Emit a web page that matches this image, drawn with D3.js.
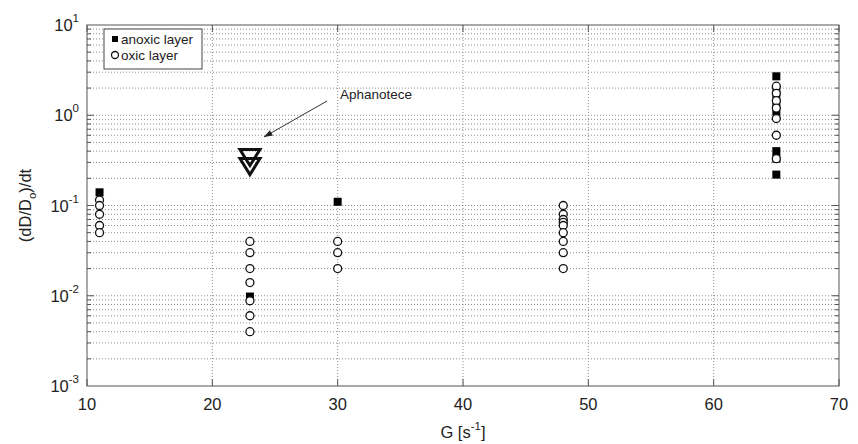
<!DOCTYPE html>
<html><head><meta charset="utf-8">
<script src="https://cdn.jsdelivr.net/npm/d3@7"></script>
<style>body{margin:0;background:#fff}svg{display:block;font-family:"Liberation Sans",Arial,sans-serif}</style>
</head><body><svg id="c" width="858" height="444"></svg>
<script>
const xTicks = [10, 20, 30, 40, 50, 60, 70];
const yExponents = [-3, -2, -1, 0, 1];
const anoxicG = [11, 23, 30, 65, 65, 65, 65, 65, 65, 65, 65];
const anoxicRate = [0.14, 0.0098, 0.11, 2.7, 1.9, 1.55, 1.3, 1.1, 0.4, 0.33, 0.22];
const oxicG = [11, 11, 11, 11, 11, 23, 23, 23, 23, 23, 23, 23, 30, 30, 30, 48, 48, 48, 48, 48, 48, 48, 48, 48, 65, 65, 65, 65, 65, 65, 65];
const oxicRate = [0.115, 0.1, 0.08, 0.06, 0.05, 0.04, 0.03, 0.02, 0.014, 0.0088, 0.006, 0.004, 0.04, 0.03, 0.02, 0.1, 0.08, 0.07, 0.065, 0.06, 0.05, 0.04, 0.03, 0.02, 2.1, 1.75, 1.45, 1.2, 0.92, 0.6, 0.33];
const aphG = [23, 23];
const aphRate = [0.34, 0.27];
const legendLabels = ["anoxic layer", "oxic layer"];
const annotation = "Aphanotece";

const svg = d3.select("#c");
const L = 87, R = 839, T = 25, B = 386;
const x = d3.scaleLinear().domain([10, 70]).range([L, R]);
const y = d3.scaleLog().domain([1e-3, 1e1]).range([B, T]);
const ink = "#222", axisC = "#555", gridC = "#8f8f8f";

// grid
const minor = [];
for (let e = -3; e < 1; e++) for (let m = 1; m <= 9; m++) { const v = m * Math.pow(10, e); if (v > 1e-3) minor.push(v); }
const g = svg.append("g");
g.selectAll("line.h").data(minor).join("line")
  .attr("x1", L).attr("x2", R).attr("y1", d => y(d)).attr("y2", d => y(d))
  .attr("stroke", gridC).attr("stroke-width", 1).attr("stroke-dasharray", "1,2");
g.selectAll("line.v").data(xTicks.slice(1, -1)).join("line")
  .attr("x1", d => x(d)).attr("x2", d => x(d)).attr("y1", T).attr("y2", B)
  .attr("stroke", gridC).attr("stroke-width", 1).attr("stroke-dasharray", "1,2");

// axes box + ticks (inside)
svg.append("rect").attr("x", L).attr("y", T).attr("width", R - L).attr("height", B - T)
  .attr("fill", "none").attr("stroke", axisC).attr("stroke-width", 1);
const tk = svg.append("g").attr("stroke", axisC).attr("stroke-width", 1);
xTicks.forEach(t => {
  tk.append("line").attr("x1", x(t)).attr("x2", x(t)).attr("y1", B).attr("y2", B - 7);
  tk.append("line").attr("x1", x(t)).attr("x2", x(t)).attr("y1", T).attr("y2", T + 7);
});
minor.forEach(v => {
  const len = Math.abs(Math.log10(v) - Math.round(Math.log10(v))) < 1e-9 ? 7 : 4;
  tk.append("line").attr("x1", L).attr("x2", L + len).attr("y1", y(v)).attr("y2", y(v));
  tk.append("line").attr("x1", R).attr("x2", R - len).attr("y1", y(v)).attr("y2", y(v));
});

// x labels
svg.selectAll("text.xt").data(xTicks).join("text")
  .attr("x", d => x(d)).attr("y", B + 24).attr("text-anchor", "middle")
  .attr("font-size", 16.5).attr("fill", ink).text(d => d);
// y labels
yExponents.forEach(e => {
  const t = svg.append("text").attr("x", L - 8).attr("y", y(Math.pow(10, e)) + 6)
    .attr("text-anchor", "end").attr("font-size", 16.5).attr("fill", ink);
  t.append("tspan").text("10");
  t.append("tspan").attr("dy", -9).attr("font-size", 11.5).text(e);
});

// axis titles
const xt = svg.append("text").attr("x", (L + R) / 2).attr("y", 438).attr("text-anchor", "middle")
  .attr("font-size", 16.5).attr("fill", ink);
xt.append("tspan").text("G [s");
xt.append("tspan").attr("dy", -8).attr("font-size", 11.5).text("-1");
xt.append("tspan").attr("dy", 8).text("]");
const yt = svg.append("text").attr("transform", `translate(31,${(T + B) / 2}) rotate(-90)`)
  .attr("text-anchor", "middle").attr("font-size", 16.5).attr("fill", ink);
yt.append("tspan").text("(dD/D");
yt.append("tspan").attr("dy", 5).attr("font-size", 11.5).text("o");
yt.append("tspan").attr("dy", -5).text(")/dt");

// data
const sq = 8;
svg.append("g").selectAll("rect").data(anoxicG.map((g, i) => [g, anoxicRate[i]])).join("rect")
  .attr("x", d => x(d[0]) - sq / 2).attr("y", d => y(d[1]) - sq / 2)
  .attr("width", sq).attr("height", sq).attr("fill", "#000");
svg.append("g").selectAll("circle").data(oxicG.map((g, i) => [g, oxicRate[i]])).join("circle")
  .attr("cx", d => x(d[0])).attr("cy", d => y(d[1])).attr("r", 4)
  .attr("fill", "#fff").attr("stroke", "#111").attr("stroke-width", 1.3);
const tri = (cx, cy) => { const w = 20, h = 16; return `M${cx - w / 2},${cy - h / 2}L${cx + w / 2},${cy - h / 2}L${cx},${cy + h / 2}Z`; };
svg.append("g").selectAll("path").data(aphG.map((g, i) => [g, aphRate[i]])).join("path")
  .attr("d", d => tri(x(d[0]), y(d[1]))).attr("fill", "none").attr("stroke", "#111").attr("stroke-width", 3)
  .attr("stroke-linejoin", "miter");

// annotation
svg.append("text").attr("x", 340).attr("y", 99).attr("font-size", 13.5).attr("fill", ink).text(annotation);
const ax1 = 327, ay1 = 101, ax2 = 264, ay2 = 137;
svg.append("line").attr("x1", ax1).attr("y1", ay1).attr("x2", ax2).attr("y2", ay2).attr("stroke", "#333").attr("stroke-width", 1);
const ang = Math.atan2(ay2 - ay1, ax2 - ax1), al = 9, aw = 0.35;
svg.append("path").attr("d", `M${ax2},${ay2}L${ax2 - al * Math.cos(ang - aw)},${ay2 - al * Math.sin(ang - aw)}L${ax2 - al * Math.cos(ang + aw)},${ay2 - al * Math.sin(ang + aw)}Z`)
  .attr("fill", "#222");

// legend
const lg = svg.append("g");
lg.append("rect").attr("x", 104).attr("y", 29).attr("width", 98).attr("height", 40)
  .attr("fill", "#fff").attr("stroke", "#444").attr("stroke-width", 1);
lg.append("rect").attr("x", 112).attr("y", 36).attr("width", 6).attr("height", 6).attr("fill", "#000");
lg.append("circle").attr("cx", 115).attr("cy", 55).attr("r", 3.5).attr("fill", "#fff").attr("stroke", "#111").attr("stroke-width", 1.3);
lg.selectAll("text").data(legendLabels).join("text")
  .attr("x", 121).attr("y", (d, i) => 44 + i * 16).attr("font-size", 13.5).attr("fill", ink).text(d => d);
</script></body></html>
